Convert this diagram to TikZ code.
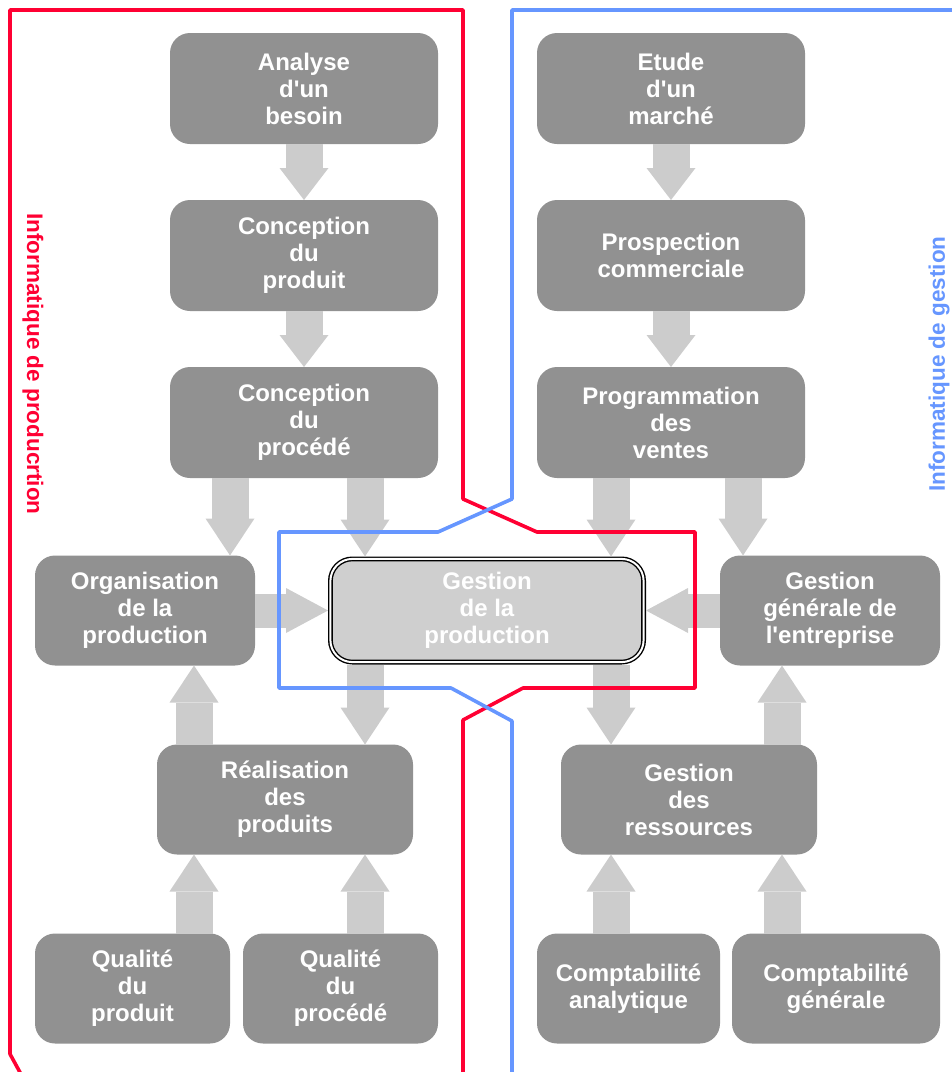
\documentclass[tikz,border=0pt]{standalone}
\usepackage{fontspec}
\setmainfont{Liberation Sans}[Ligatures=TeXOff]
\usetikzlibrary{arrows.meta}

\definecolor{boxgray}{RGB}{145,145,145}
\definecolor{flowgray}{RGB}{204,204,204}
\definecolor{coregray}{RGB}{207,207,207}
\definecolor{prodred}{RGB}{255,0,51}
\definecolor{mgmtblue}{RGB}{102,150,255}

\tikzset{
  box/.style={fill=boxgray, rounded corners=20pt, text=white, align=center,
    inner sep=0pt, outer sep=0pt, font=\bfseries\fontsize{24}{27}\selectfont},
  corebox/.style={box, fill=coregray, draw=black, double=white,
    double distance=2pt, line width=1.4pt, rounded corners=22pt,
    outer sep=2.4pt, text=white},
  flow/.style={draw=flowgray, line width=37pt,
    -{Triangle[width=49pt,length=#1,line width=0pt]}},
  flow/.default=37pt,
  hflow/.style={draw=flowgray, line width=34pt,
    -{Triangle[width=45pt,length=42pt,line width=0pt]}},
  zoneline/.style={line width=3.6pt, line join=round},
  zonelabel/.style={font=\bfseries\fontsize{22.5}{26}\selectfont, inner sep=0pt}
}

\begin{document}
\begin{tikzpicture}[x=1pt,y=-1pt]
\useasboundingbox (0,0) rectangle (952,1072);
\clip (0,0) rectangle (952,1072);

% production chain (left column)
\node[box, minimum width=268pt, minimum height=111pt] (analyse) at (304,88.5) {Analyse\\d'un\\besoin};
\node[box, minimum width=268pt, minimum height=111pt] (cprod) at (304,255.5) {Conception\\du\\produit};
\node[box, minimum width=268pt, minimum height=111pt] (cproc) at (304,422.5) {Conception\\du\\procédé};

% commercial chain (right column)
\node[box, minimum width=268pt, minimum height=111pt] (etude) at (671,88.5) {Etude\\d'un\\marché};
\node[box, minimum width=268pt, minimum height=111pt] (prosp) at (671,255.5) {Prospection\\commerciale};
\node[box, minimum width=268pt, minimum height=111pt] (progv) at (671,422.5) {Programmation\\des\\ventes};

% middle row
\node[box, minimum width=220pt, minimum height=110pt] (orga) at (145,610.5) {Organisation\\de la\\production};
\node[corebox, minimum width=313.2pt, minimum height=103.2pt] (gest) at (487,610.5) {Gestion\\de la\\production};
\node[box, minimum width=220pt, minimum height=110pt] (ggen) at (830,610.5) {Gestion\\générale de\\l'entreprise};

% lower row
\node[box, minimum width=256pt, minimum height=110pt] (real) at (285,799.5) {Réalisation\\des\\produits};
\node[box, minimum width=256pt, minimum height=110pt] (gres) at (689,799.5) {Gestion\\des\\ressources};

% bottom row
\node[box, minimum width=195pt, minimum height=110pt] (qprod) at (132.5,988.5) {Qualité\\du\\produit};
\node[box, minimum width=195pt, minimum height=110pt] (qproc) at (340.5,988.5) {Qualité\\du\\procédé};
\node[box, minimum width=183pt, minimum height=110pt] (canal) at (628.5,988.5) {Comptabilité\\analytique};
\node[box, minimum width=208pt, minimum height=110pt] (cgen) at (836,988.5) {Comptabilité\\générale};

% arrow columns
\coordinate (xa) at (194,0);
\coordinate (xb) at (230,0);
\coordinate (xc) at (365,0);
\coordinate (xd) at (611,0);
\coordinate (xe) at (743,0);
\coordinate (xf) at (782,0);

% flows
\draw[flow=32pt] (analyse) -- (cprod);
\draw[flow=32pt] (cprod) -- (cproc);
\draw[flow=32pt] (etude) -- (prosp);
\draw[flow=32pt] (prosp) -- (progv);
\draw[flow] (cproc.south -| xb) -- (orga.north -| xb);
\draw[flow] (cproc.south -| xc) -- (gest.north -| xc);
\draw[flow] (progv.south -| xd) -- (gest.north -| xd);
\draw[flow] (progv.south -| xe) -- (ggen.north -| xe);
\draw[hflow] (orga) -- (gest);
\draw[hflow] (ggen) -- (gest);
\draw[flow] (gest.south -| xc) -- (real.north -| xc);
\draw[flow] (gest.south -| xd) -- (gres.north -| xd);
\draw[flow] (real.north -| xa) -- (orga.south -| xa);
\draw[flow] (gres.north -| xf) -- (ggen.south -| xf);
\draw[flow] (qprod.north -| xa) -- (real.south -| xa);
\draw[flow] (qproc.north -| xc) -- (real.south -| xc);
\draw[flow] (canal.north -| xd) -- (gres.south -| xd);
\draw[flow] (cgen.north -| xf) -- (gres.south -| xf);

% zone boundaries
\draw[zoneline, prodred] (22,1076) -- (10,1054) -- (10,10) -- (463,10) -- (463,499)
  -- (537,532) -- (695,532) -- (695,688) -- (523,688) -- (463,720) -- (463,1076);
\draw[zoneline, mgmtblue] (512,1076) -- (512,721) -- (451,688) -- (279,688) -- (279,532)
  -- (438,532) -- (512,499) -- (512,10) -- (960,10);

% zone labels
\node[zonelabel, text=prodred, rotate=-90] (lprod) at (33,364) {Informatique de producrtion};
\node[zonelabel, text=mgmtblue, rotate=90] (lgest) at (939,364) {Informatique de gestion};
\end{tikzpicture}
\end{document}
